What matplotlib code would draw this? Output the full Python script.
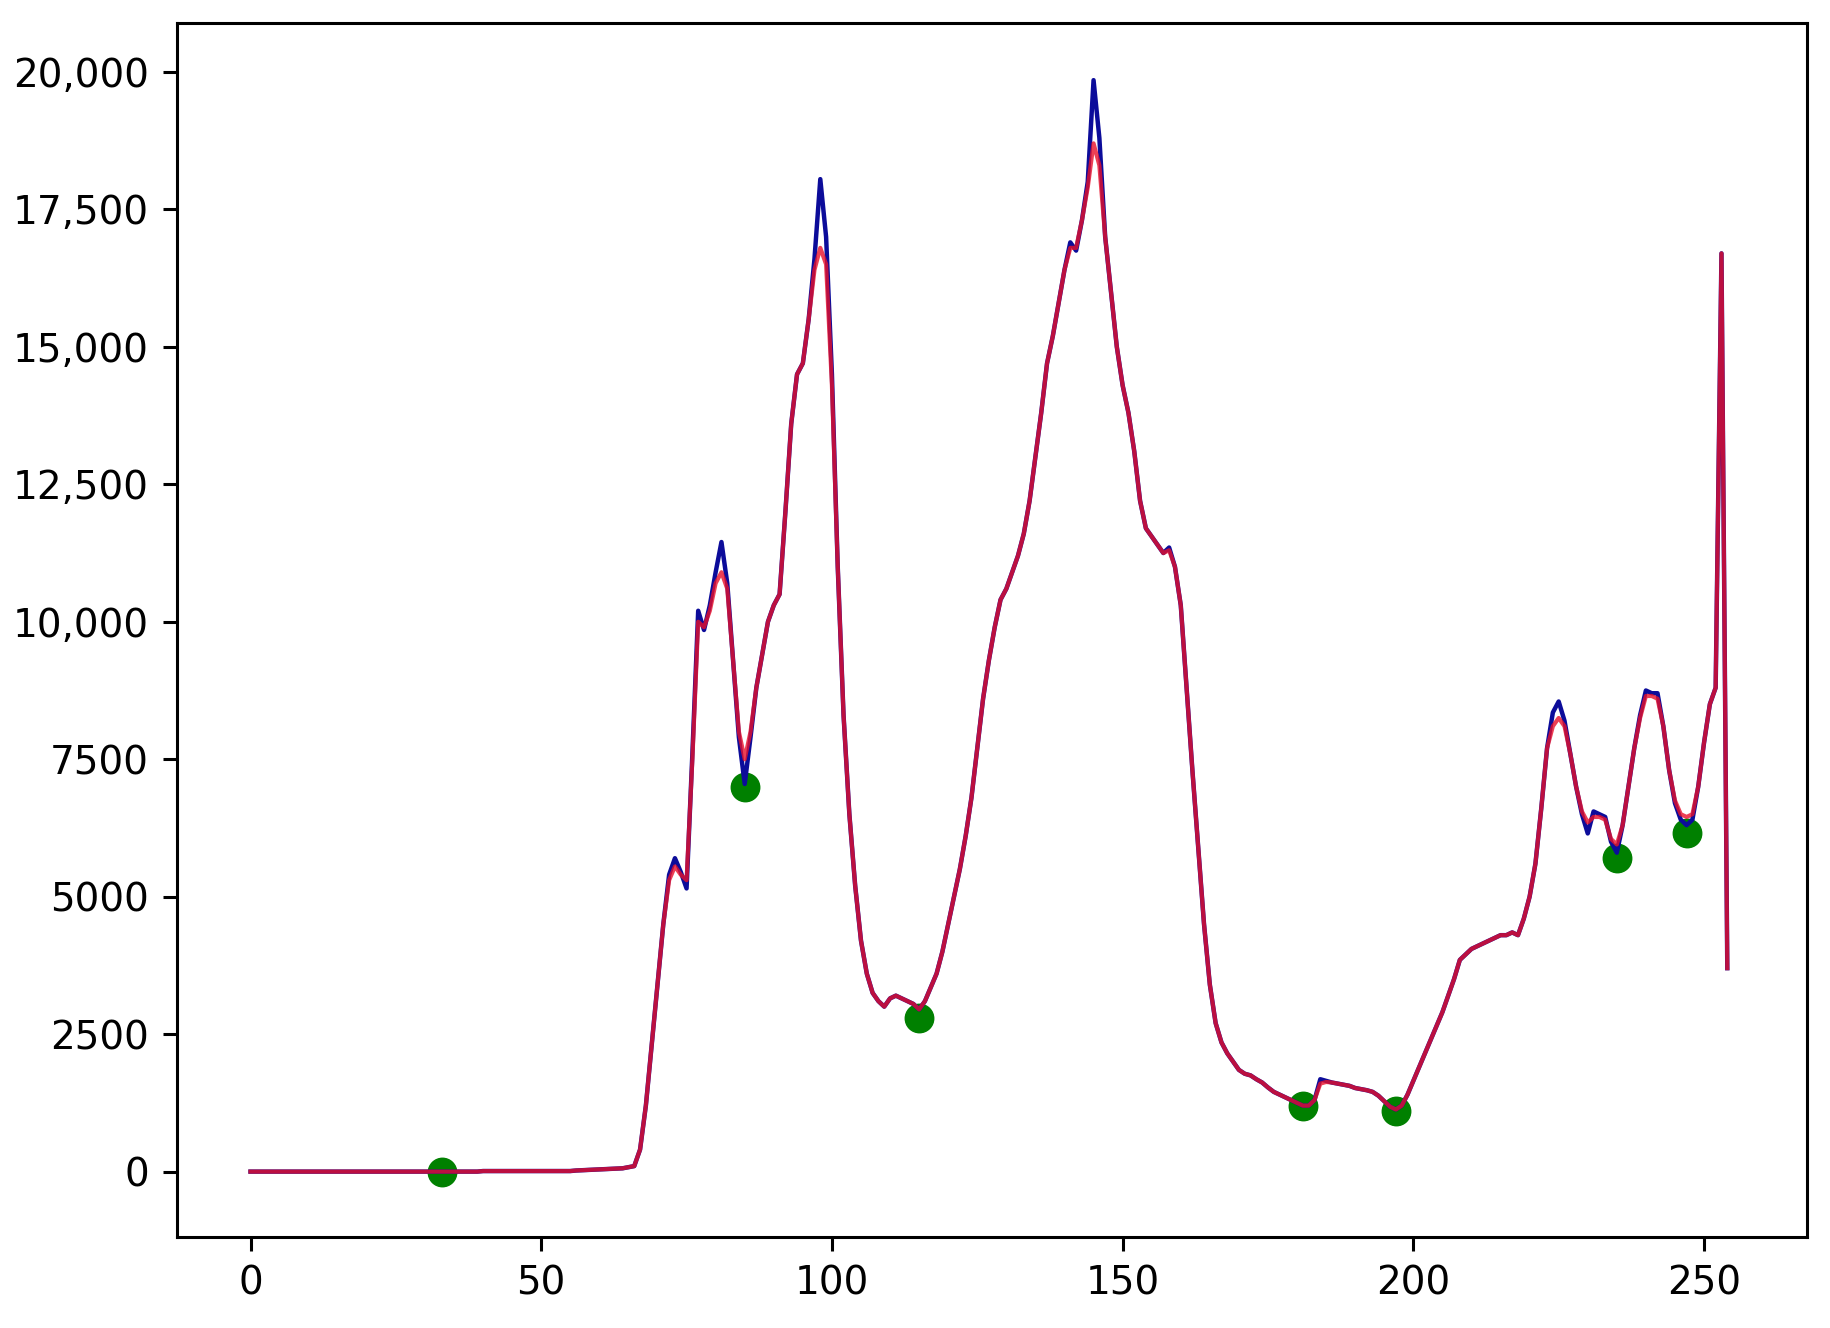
import matplotlib

matplotlib.use("Agg")
import matplotlib.pyplot as plt
from matplotlib.ticker import FuncFormatter
import numpy as np

# histogram counts per grey level (blue) and the smoothed curve (red)
hist_counts = [
    0, 0, 0, 0, 0, 0, 0, 0, 0, 0, 0, 0, 0, 0, 0, 0,
    0, 0, 0, 0, 0, 0, 0, 0, 0, 0, 0, 0, 0, 0, 0, 0,
    0, 0, 0, 0, 0, 0, 0, 0, 10, 10, 10, 10, 10, 10, 10, 10,
    10, 10, 10, 10, 10, 10, 10, 10, 20, 25, 30, 35, 40, 45, 50, 55,
    60, 80, 100, 400, 1200, 2300, 3400, 4500, 5400, 5700, 5450, 5150, 7600, 10200, 9850, 10300,
    10900, 11450, 10700, 9300, 7900, 7050, 7900, 8800, 9400, 10000, 10300, 10500, 12000, 13600, 14500, 14700,
    15500, 16600, 18050, 17000, 14500, 11000, 8300, 6500, 5200, 4200, 3600, 3250, 3100, 3000, 3150, 3200,
    3150, 3100, 3050, 2950, 3100, 3350, 3600, 4000, 4500, 5000, 5500, 6100, 6800, 7700, 8600, 9300,
    9900, 10400, 10600, 10900, 11200, 11600, 12200, 13000, 13800, 14700, 15200, 15800, 16400, 16900, 16750, 17300,
    18000, 19850, 18800, 17000, 16000, 15000, 14300, 13800, 13100, 12200, 11700, 11550, 11400, 11250, 11350, 11000,
    10300, 8800, 7300, 5900, 4500, 3400, 2700, 2350, 2150, 2000, 1850, 1780, 1750, 1680, 1620, 1530,
    1450, 1400, 1350, 1300, 1250, 1200, 1200, 1300, 1680, 1650, 1620, 1600, 1580, 1560, 1520, 1500,
    1480, 1450, 1380, 1280, 1180, 1130, 1200, 1400, 1650, 1900, 2150, 2400, 2650, 2900, 3200, 3500,
    3850, 3950, 4050, 4100, 4150, 4200, 4250, 4300, 4300, 4350, 4300, 4600, 5000, 5600, 6600, 7700,
    8350, 8550, 8200, 7600, 7000, 6500, 6150, 6550, 6500, 6450, 6000, 5800, 6300, 7000, 7700, 8300,
    8750, 8700, 8700, 8100, 7300, 6700, 6400, 6300, 6400, 7000, 7800, 8500, 8800, 16700, 3700,
]

smoothed_counts = [
    0, 0, 0, 0, 0, 0, 0, 0, 0, 0, 0, 0, 0, 0, 0, 0,
    0, 0, 0, 0, 0, 0, 0, 0, 0, 0, 0, 0, 0, 0, 0, 0,
    0, 0, 0, 0, 0, 0, 0, 0, 10, 10, 10, 10, 10, 10, 10, 10,
    10, 10, 10, 10, 10, 10, 10, 10, 20, 25, 30, 35, 40, 45, 50, 55,
    60, 80, 100, 400, 1200, 2300, 3400, 4500, 5300, 5550, 5400, 5300, 7500, 10000, 9900, 10200,
    10700, 10900, 10600, 9300, 8000, 7500, 8000, 8800, 9400, 10000, 10300, 10500, 12000, 13600, 14500, 14700,
    15500, 16400, 16800, 16500, 14300, 11000, 8300, 6500, 5200, 4200, 3600, 3250, 3100, 3000, 3150, 3200,
    3150, 3100, 3050, 2950, 3100, 3350, 3600, 4000, 4500, 5000, 5500, 6100, 6800, 7700, 8600, 9300,
    9900, 10400, 10600, 10900, 11200, 11600, 12200, 13000, 13800, 14700, 15200, 15800, 16400, 16800, 16800, 17300,
    17900, 18700, 18300, 17000, 16000, 15000, 14300, 13800, 13100, 12200, 11700, 11550, 11400, 11250, 11300, 11000,
    10300, 8800, 7300, 5900, 4500, 3400, 2700, 2350, 2150, 2000, 1850, 1780, 1750, 1680, 1620, 1530,
    1450, 1400, 1350, 1300, 1250, 1200, 1200, 1300, 1600, 1630, 1620, 1600, 1580, 1560, 1520, 1500,
    1480, 1450, 1380, 1280, 1180, 1130, 1200, 1400, 1650, 1900, 2150, 2400, 2650, 2900, 3200, 3500,
    3850, 3950, 4050, 4100, 4150, 4200, 4250, 4300, 4300, 4350, 4300, 4600, 5000, 5600, 6600, 7700,
    8100, 8250, 8100, 7600, 7000, 6550, 6350, 6450, 6450, 6400, 6050, 5950, 6300, 7000, 7700, 8250,
    8650, 8650, 8600, 8100, 7300, 6750, 6500, 6450, 6500, 7000, 7800, 8500, 8800, 16700, 3700,
]

minima_x = [33, 85, 115, 181, 197, 235, 247]
minima_y = [0, 7000, 2800, 1200, 1110, 5700, 6150]

y_ticks = [0, 2500, 5000, 7500, 10000, 12500, 15000, 17500, 20000]
x_ticks = [0, 50, 100, 150, 200, 250]


def tick_label(value, _pos):
    if abs(value) >= 10000:
        return f"{int(value):,}"
    return f"{int(value)}"


grey_levels = np.arange(len(hist_counts))

figure = plt.figure(figsize=(18.3, 13.28), dpi=100)
axis = figure.add_axes([0.0967, 0.0685, 0.8907, 0.9142])

axis.scatter(minima_x, minima_y, s=420, color="green", zorder=1)
axis.plot(grey_levels, hist_counts, color="#0c0c9a", linewidth=3.2,
          solid_joinstyle="round", zorder=2)
axis.plot(grey_levels, smoothed_counts, color="#e8102a", linewidth=3.0, alpha=0.8,
          solid_joinstyle="round", zorder=3)

axis.set_xlim(-12.65, 267.7)
axis.set_ylim(-1190, 20890)
axis.set_xticks(x_ticks)
axis.set_yticks(y_ticks)
axis.yaxis.set_major_formatter(FuncFormatter(tick_label))
axis.tick_params(labelsize=28, length=10, width=2.2, pad=10)
for spine in axis.spines.values():
    spine.set_linewidth(2.2)

figure.savefig("out.png", dpi=100)
plt.close(figure)
